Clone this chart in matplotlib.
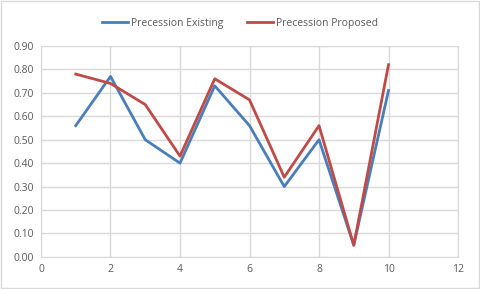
import matplotlib.pyplot as plt

# data
x = [1, 2, 3, 4, 5, 6, 7, 8, 9, 10]
existing = [0.56, 0.77, 0.50, 0.40, 0.73, 0.56, 0.30, 0.50, 0.05, 0.71]
proposed = [0.78, 0.74, 0.65, 0.43, 0.76, 0.67, 0.34, 0.56, 0.05, 0.82]

plt.rcParams['font.family'] = ['Open Sans', 'DejaVu Sans']

fig = plt.figure(figsize=(4.8, 2.89), dpi=100)
ax = fig.add_axes([0.0854, 0.111, 0.8688, 0.730])

ax.plot(x, existing, color='#4A7EBB', lw=2, label='Precession Existing')
ax.plot(x, proposed, color='#BE4B48', lw=2, label='Precession Proposed')

ax.set_xlim(0, 12)
ax.set_ylim(0, 0.9)
ax.set_xticks(range(0, 13, 2))
ax.set_yticks([i / 10 for i in range(10)])
ax.set_yticklabels([f"{i / 10:.2f}" for i in range(10)])
ax.grid(True, color='#D9D9D9', lw=1)
ax.set_axisbelow(True)
for s in ax.spines.values():
    s.set_color('#D9D9D9')
ax.tick_params(length=0, colors='#595959', labelsize=7.5, pad=5)

fig.legend(loc='upper center', bbox_to_anchor=(0.5, 0.97), ncol=2, frameon=False,
           fontsize=7.5, labelcolor='#595959', handlelength=2.5,
           handletextpad=0.3, columnspacing=2.2)

# outer border
fig.patches.append(plt.Rectangle((0.002, 0.003), 0.996, 0.994, transform=fig.transFigure,
                                 fill=False, edgecolor='#D9D9D9', lw=1))

fig.savefig('out.png', dpi=100)
